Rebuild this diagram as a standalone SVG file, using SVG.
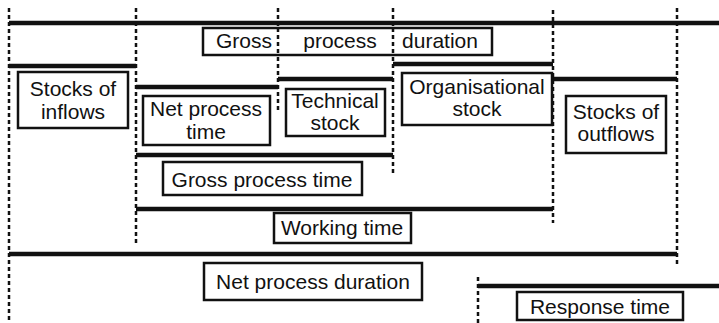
<svg xmlns="http://www.w3.org/2000/svg" width="719" height="323" viewBox="0 0 719 323">
<style>
.bg{fill:#fff}
.dash{stroke:#111;stroke-width:2.5;stroke-dasharray:4 3;fill:none}
.bar{stroke:#111;stroke-width:4.5;fill:none}
.box{fill:#fff;stroke:#111;stroke-width:2.5}
text{font-family:"Liberation Sans",Arial,sans-serif;font-size:21px;fill:#111;text-anchor:middle}
</style>
<rect class="bg" x="0" y="0" width="719" height="323"/>
<g id="connectors">
<line class="dash" x1="9" y1="8" x2="9" y2="323"/>
<line class="dash" x1="136" y1="8" x2="136" y2="245"/>
<line class="dash" x1="278" y1="8" x2="278" y2="113"/>
<line class="dash" x1="393" y1="8" x2="393" y2="173"/>
<line class="dash" x1="553" y1="10" x2="553" y2="223"/>
<line class="dash" x1="677" y1="8" x2="677" y2="267"/>
<line class="dash" x1="478" y1="277" x2="478" y2="323"/>
<line class="bar" x1="9" y1="23" x2="719" y2="23"/>
<line class="bar" x1="9" y1="66" x2="136" y2="66"/>
<line class="bar" x1="136" y1="87" x2="278" y2="87"/>
<line class="bar" x1="278" y1="79" x2="393" y2="79"/>
<line class="bar" x1="393" y1="64" x2="553" y2="64"/>
<line class="bar" x1="553" y1="79" x2="677" y2="79"/>
<line class="bar" x1="136" y1="155" x2="393" y2="155"/>
<line class="bar" x1="136" y1="209" x2="553" y2="209"/>
<line class="bar" x1="9" y1="254" x2="677" y2="254"/>
<line class="bar" x1="478" y1="286" x2="719" y2="286"/>
</g>
<g id="gross-process-duration">
<rect class="box" x="203" y="28" width="289" height="27"/>
<line class="dash" x1="278" y1="28" x2="278" y2="55"/>
<line class="dash" x1="393" y1="28" x2="393" y2="55"/>
<text x="244" y="48">Gross</text>
<text x="340" y="48">process</text>
<text x="440" y="48">duration</text>
</g>
<g id="stocks-of-inflows">
<rect class="box" x="18" y="72" width="110" height="56"/>
<text x="73" y="96">Stocks of</text>
<text x="73" y="119">inflows</text>
</g>
<g id="net-process-time">
<rect class="box" x="143" y="96" width="127" height="49"/>
<text x="206" y="116">Net process</text>
<text x="206" y="139">time</text>
</g>
<g id="technical-stock">
<rect class="box" x="286" y="89" width="99" height="47"/>
<text x="335" y="108">Technical</text>
<text x="335" y="130">stock</text>
</g>
<g id="organisational-stock">
<rect class="box" x="402" y="73" width="150" height="52"/>
<text x="477" y="94">Organisational</text>
<text x="477" y="116">stock</text>
</g>
<g id="stocks-of-outflows">
<rect class="box" x="566" y="96" width="100" height="57"/>
<text x="616" y="119">Stocks of</text>
<text x="616" y="141">outflows</text>
</g>
<g id="gross-process-time">
<rect class="box" x="163" y="162" width="199" height="33"/>
<text x="262" y="187">Gross process time</text>
</g>
<g id="working-time">
<rect class="box" x="274" y="213" width="137" height="30"/>
<text x="342" y="235">Working time</text>
</g>
<g id="net-process-duration">
<rect class="box" x="204" y="263" width="218" height="37"/>
<text x="313" y="289">Net process duration</text>
</g>
<g id="response-time">
<rect class="box" x="517" y="292" width="166" height="28"/>
<text x="600" y="314">Response time</text>
</g>
</svg>
